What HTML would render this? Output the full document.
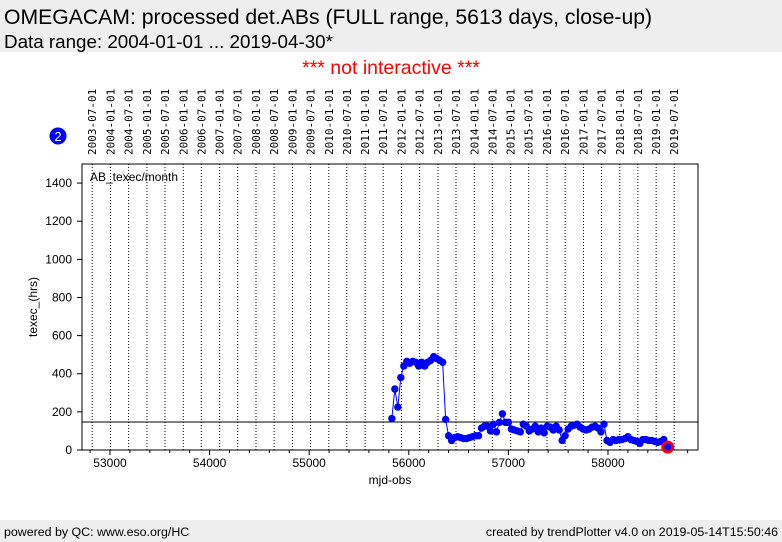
<!DOCTYPE html>
<html><head><meta charset="utf-8"><style>
body{margin:0;width:782px;height:542px;background:#fff;font-family:"Liberation Sans","DejaVu Sans",sans-serif;overflow:hidden;position:relative}
.hdr{position:absolute;left:0;top:0;width:782px;height:52px;background:#eeeeee}
.ftr{position:absolute;left:0;top:520px;width:782px;height:22px;background:#eeeeee;font-size:12.4px}
</style></head><body>
<div class="hdr">
<div style="position:absolute;left:4px;top:6px;font-size:21.2px">OMEGACAM: processed det.ABs (FULL range, 5613 days, close-up)</div>
<div style="position:absolute;left:4px;top:31px;font-size:18.8px">Data range: 2004-01-01 ... 2019-04-30*</div>
</div>
<div style="position:absolute;left:0;width:782px;top:57px;text-align:center;color:#f00;font-size:19.5px">*** not interactive ***</div>
<div class="ftr">
<span style="position:absolute;left:4px;top:5px">powered by QC: www.eso.org/HC</span>
<span style="position:absolute;right:4px;top:5px">created by trendPlotter v4.0 on 2019-05-14T15:50:46</span>
</div>
<svg id="ch" width="782" height="542" style="position:absolute;left:0;top:0"></svg>
<script>
const yTicks=[0,200,400,600,800,1000,1200,1400];
const xTicks=[53000,54000,55000,56000,57000,58000];
const startMjd=55830, stepDays=30;
const values=[165,320,225,380,440,465,455,465,460,440,460,440,460,470,490,480,470,460,160,75,50,65,70,65,60,60,65,70,75,75,115,125,125,100,135,95,145,190,145,145,110,105,100,95,135,125,100,110,125,95,115,90,125,120,105,125,105,50,75,110,125,130,135,120,110,105,110,120,125,115,95,135,50,40,55,50,55,55,60,70,55,50,45,35,55,55,50,50,45,40,45,55,20];
const lastValue=15, lastMjd=58600;
const refLine=147;
const X0=82,X1=698,Y0=450,Y1=164,xmin=52719,xmax=58904,ymax=1500;
const sx=v=>X0+(v-xmin)/(xmax-xmin)*(X1-X0);
const sy=v=>Y0-v/ymax*(Y0-Y1);
const svg=document.getElementById('ch');const NS='http://www.w3.org/2000/svg';
function mk(t,a,p){const e=document.createElementNS(NS,t);for(const k in a)e.setAttribute(k,a[k]);(p||svg).appendChild(e);return e;}
for(let y=2003;y<=2019;y++)for(const m of [0,6]){
 if(y===2003&&m===0)continue;
 const mjd=Date.UTC(y,m,1)/86400000+40587;const x=sx(mjd);
 const l=mk('line',{x1:x,x2:x,y1:Y1,y2:Y0,stroke:'#000','stroke-dasharray':'1,2','stroke-width':1});
 
 const lbl=`${y}-0${m+1}-01`;
 const t=mk('text',{x:0,y:0,transform:`translate(${x+4},155) rotate(-90)`,'font-size':11,'font-family':'DejaVu Sans Mono, monospace'});
 t.textContent=lbl;
}
const fr=mk('rect',{x:X0,y:Y1,width:X1-X0,height:Y0-Y1,fill:'none',stroke:'#000'});

yTicks.forEach(v=>{const y=sy(v);mk('line',{x1:X0-5,x2:X0,y1:y,y2:y,stroke:'#000'});
 const t=mk('text',{x:X0-10,y:y+4,'font-size':12,'text-anchor':'end'});t.textContent=v;
 });
for(let v=52800;v<=58800;v+=200){const x=sx(v);mk('line',{x1:x,x2:x,y1:Y0,y2:Y0+(v%1000===0?5:3),stroke:'#000'});}
xTicks.forEach(v=>{const t=mk('text',{x:sx(v),y:467,'font-size':12,'text-anchor':'middle'});t.textContent=v;
 });
let t=mk('text',{x:390,y:484,'font-size':12,'text-anchor':'middle'});t.textContent='mjd-obs';

t=mk('text',{x:0,y:0,transform:'translate(37,307) rotate(-90)','font-size':12,'text-anchor':'middle'});t.textContent='texec_(hrs)';

t=mk('text',{x:90,y:181,'font-size':12});t.textContent='AB_texec/month';

const rl=mk('line',{x1:X0,x2:X1,y1:sy(refLine),y2:sy(refLine),stroke:'#000'});

const pts=values.map((v,i)=>[sx(startMjd+i*stepDays),sy(v)]);
const pl=mk('polyline',{points:pts.map(p=>p.join(',')).join(' ')+` ${sx(lastMjd)},${sy(lastValue)}`,fill:'none',stroke:'#00f','stroke-width':1});

pts.forEach(p=>{const c=mk('circle',{cx:p[0],cy:p[1],r:3.7,fill:'#00f'});
 });
const lc=mk('circle',{cx:sx(lastMjd),cy:sy(lastValue),r:5,fill:'#00f',stroke:'#f00','stroke-width':3});

const b=mk('circle',{cx:58,cy:136,r:8.5,fill:'#00f'});

t=mk('text',{x:58,y:141,'font-size':13,fill:'#fff','text-anchor':'middle'});t.textContent='2';

</script>
</body></html>
